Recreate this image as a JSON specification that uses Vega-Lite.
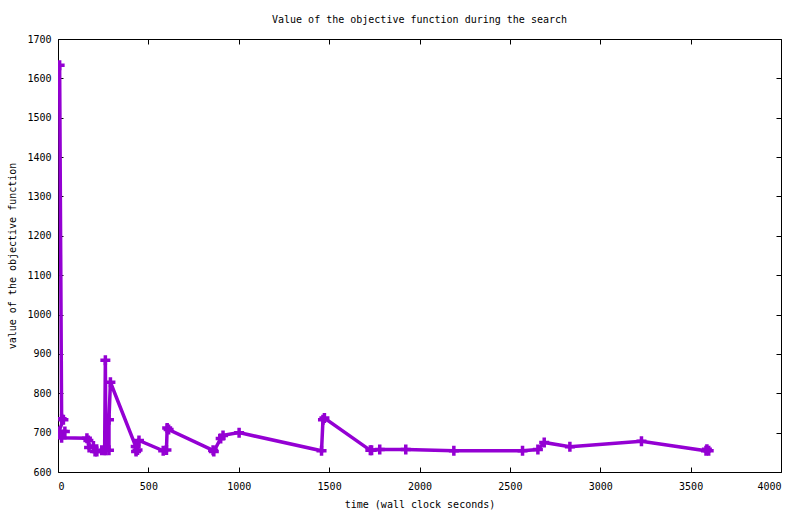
{
  "$schema": "https://vega.github.io/schema/vega-lite/v6.json",
  "autosize": "none",
  "padding": {"left": 58, "top": 39, "right": 19, "bottom": 42},
  "width": 723,
  "height": 433,
  "background": "#ffffff",
  "title": {
    "text": "Value of the objective function during the search",
    "font": "DejaVu Sans Mono",
    "fontSize": 10,
    "fontWeight": "normal",
    "color": "#000000",
    "baseline": "alphabetic",
    "offset": 1
  },
  "config": {
    "view": {"stroke": "#000000", "strokeWidth": 1},
    "axis": {
      "domain": false,
      "grid": false,
      "tickColor": "#000000",
      "tickWidth": 1,
      "tickSize": -5,
      "format": "d",
      "labelFont": "DejaVu Sans Mono",
      "labelFontSize": 10,
      "labelColor": "#000000",
      "titleFont": "DejaVu Sans Mono",
      "titleFontSize": 10,
      "titleFontWeight": "normal",
      "titleColor": "#000000"
    }
  },
  "data": {
    "values": [
      {"i": 0, "t": 9, "v": 1633},
      {"i": 3, "t": 20, "v": 735},
      {"i": 4, "t": 30, "v": 733},
      {"i": 5, "t": 5, "v": 703},
      {"i": 6, "t": 38, "v": 703},
      {"i": 7, "t": 20, "v": 687},
      {"i": 8, "t": 160, "v": 686},
      {"i": 9, "t": 168, "v": 680},
      {"i": 10, "t": 172, "v": 662},
      {"i": 11, "t": 196, "v": 666},
      {"i": 12, "t": 205, "v": 652},
      {"i": 13, "t": 215, "v": 652},
      {"i": 14, "t": 242, "v": 655},
      {"i": 15, "t": 258, "v": 655},
      {"i": 16, "t": 262, "v": 884},
      {"i": 17, "t": 265, "v": 655},
      {"i": 18, "t": 282, "v": 655},
      {"i": 19, "t": 282, "v": 733},
      {"i": 20, "t": 290, "v": 828},
      {"i": 21, "t": 430, "v": 665},
      {"i": 22, "t": 432, "v": 652},
      {"i": 23, "t": 440, "v": 656},
      {"i": 24, "t": 448, "v": 680},
      {"i": 25, "t": 582, "v": 654},
      {"i": 26, "t": 600, "v": 656},
      {"i": 27, "t": 604, "v": 712},
      {"i": 28, "t": 612, "v": 708},
      {"i": 29, "t": 858, "v": 655},
      {"i": 30, "t": 862, "v": 652},
      {"i": 31, "t": 900, "v": 685},
      {"i": 32, "t": 913, "v": 693},
      {"i": 33, "t": 1002, "v": 700},
      {"i": 34, "t": 1458, "v": 654},
      {"i": 35, "t": 1466, "v": 733},
      {"i": 36, "t": 1474, "v": 737},
      {"i": 37, "t": 1728, "v": 655},
      {"i": 38, "t": 1735, "v": 655},
      {"i": 39, "t": 1780, "v": 657},
      {"i": 40, "t": 1924, "v": 657},
      {"i": 41, "t": 2190, "v": 654},
      {"i": 42, "t": 2570, "v": 654},
      {"i": 43, "t": 2655, "v": 657},
      {"i": 44, "t": 2690, "v": 675},
      {"i": 45, "t": 2832, "v": 664},
      {"i": 46, "t": 3228, "v": 678},
      {"i": 47, "t": 3585, "v": 654},
      {"i": 48, "t": 3590, "v": 658},
      {"i": 49, "t": 3600, "v": 654}
    ]
  },
  "layer": [
    {
      "mark": {"type": "line", "color": "#9400d3", "strokeWidth": 3.5, "clip": true},
      "encoding": {
        "x": {
          "field": "t", "type": "quantitative",
          "scale": {"domain": [0, 4000], "nice": false, "zero": false},
          "axis": {"values": [0, 500, 1000, 1500, 2000, 2500, 3000, 3500, 4000], "labelPadding": 14, "title": "time (wall clock seconds)", "titlePadding": 8}
        },
        "y": {
          "field": "v", "type": "quantitative",
          "scale": {"domain": [600, 1700], "nice": false, "zero": false},
          "axis": {"values": [600, 700, 800, 900, 1000, 1100, 1200, 1300, 1400, 1500, 1600, 1700], "labelPadding": 12, "title": "value of the objective function", "titlePadding": 9}
        },
        "order": {"field": "i"}
      }
    },
    {
      "mark": {"type": "point", "shape": "M-1,0H1M0,-1V1", "size": 100, "filled": false, "stroke": "#9400d3", "strokeWidth": 3.5, "opacity": 1, "clip": true},
      "encoding": {
        "x": {
          "field": "t", "type": "quantitative",
          "axis": {"orient": "top", "values": [0, 500, 1000, 1500, 2000, 2500, 3000, 3500, 4000], "labels": false, "title": null}
        },
        "y": {
          "field": "v", "type": "quantitative",
          "axis": {"orient": "right", "values": [600, 700, 800, 900, 1000, 1100, 1200, 1300, 1400, 1500, 1600, 1700], "labels": false, "title": null}
        }
      }
    }
  ],
  "resolve": {"axis": {"x": "independent", "y": "independent"}}
}
